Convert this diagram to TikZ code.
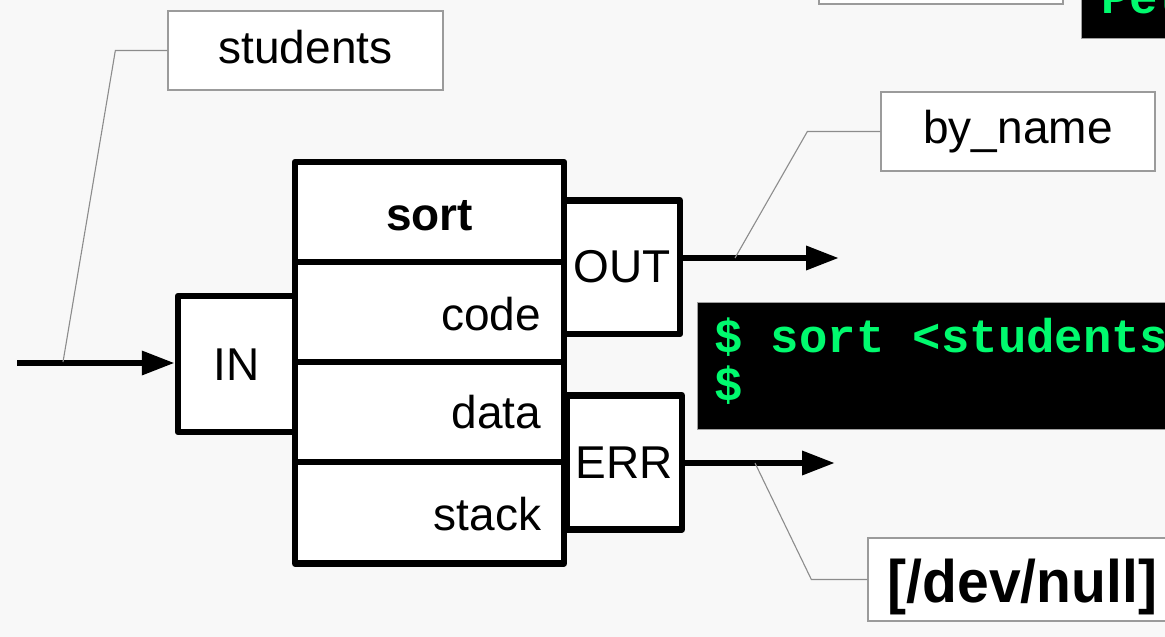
\documentclass[tikz,border=0pt]{standalone}
\usepackage{fontspec}
\usepackage{graphicx}
\setmainfont{Liberation Sans}
\newfontfamily\termfont{Liberation Mono}
\usetikzlibrary{arrows.meta}

\definecolor{pagebg}{RGB}{248,248,248}
\definecolor{termgreen}{RGB}{0,250,110}
\definecolor{leadergray}{RGB}{140,140,140}
\definecolor{framegray}{RGB}{155,155,155}

\begin{document}
\begin{tikzpicture}[x=1pt,y=-1pt,
  heavy/.style={line width=6.5pt, line join=round},
  cell/.style={draw, heavy, fill=white, inner sep=0pt, text depth=0pt,
    font=\fontsize{46}{55}\selectfont},
  rowcell/.style={cell, minimum width=269pt, text width=223pt, align=right},
  tag/.style={draw=framegray, line width=1.3pt, fill=white, inner sep=0pt,
    text depth=0pt, font=\fontsize{46}{55}\selectfont},
  flow/.style={heavy, -{Triangle[length=33pt,width=23pt]}},
  leader/.style={draw=leadergray, line width=1.1pt},
  term/.style={fill=black, draw=gray!75, line width=1pt, inner sep=0pt},
  termtext/.style={text=termgreen, inner sep=0pt, anchor=base west,
    font=\termfont\bfseries\fontsize{47.3}{48}\selectfont}]

  % canvas
  \useasboundingbox (0,0) rectangle (1165,637);
  \fill[pagebg] (0,0) rectangle (1165,637);
  \clip (0,0) rectangle (1165,637);

  % terminal windows
  \node[tag, minimum width=244pt, minimum height=44pt] (topbox) at (941,-18) {};
  \node[term, minimum width=109pt, minimum height=78pt] (topterm) at (1135.5,-1) {};
  \node[termtext] (toptext) at (1101,13) {Pet};

  \node[term, minimum width=493pt, minimum height=127pt] (shell) at (943.5,365.5) {};
  \node[termtext] (cmd) at (714,352) {\$ sort <students};
  \node[termtext] (prompt) at (714,400) {\$};

  % process with its streams
  \node[cell, minimum width=117pt, minimum height=136pt, text height=32pt]
    (IN) at (236.5,364) {IN};
  \node[cell, minimum width=269pt, minimum height=100pt, text height=36pt]
    (head) at (429.5,212) {\bfseries sort};
  \node[rowcell, minimum height=100pt, text height=36pt] (code) at (429.5,312) {code};
  \node[rowcell, minimum height=100pt, text height=32pt] (data) at (429.5,412) {data};
  \node[rowcell, minimum height=101.5pt, text height=34.5pt] (stack) at (429.5,512.75) {stack};
  \node[cell, minimum width=116pt, minimum height=133.5pt, text height=29.5pt]
    (OUT) at (622,267.25) {OUT};
  \node[cell, minimum width=115pt, minimum height=134pt, text height=31pt]
    (ERR) at (624.5,462.5) {ERR};

  % data flow
  \coordinate (insrc) at (17,363);
  \coordinate (outtip) at (839,258);
  \coordinate (errtip) at (835,463);
  \draw[flow] (insrc) -- (IN.west |- insrc);
  \draw[flow] (OUT.east |- outtip) -- (outtip);
  \draw[flow] (ERR.east |- errtip) -- (errtip);

  % file labels
  \node[tag, minimum width=275pt, minimum height=79pt, text height=25pt]
    (students) at (305.5,50.5) {students};
  \node[tag, minimum width=274pt, minimum height=79pt, text height=23pt]
    (byname) at (1018,131.5) {by\_name};
  \node[tag, minimum width=309pt, minimum height=83pt, text height=45pt,
    font=\bfseries\fontsize{60}{66}\selectfont]
    (devnull) at (1022.5,579.5) {\scalebox{0.95}[1]{[/dev/null]}};

  \coordinate (inlead) at (63,362);
  \coordinate (outlead) at (735,258);
  \coordinate (errlead) at (755,463);
  \draw[leader] (students.west) -- ++(-52,0) -- (inlead);
  \draw[leader] (byname.west) -- ++(-73,0) -- (outlead);
  \draw[leader] (devnull.west) -- ++(-56,0) -- (errlead);
\end{tikzpicture}
\end{document}
